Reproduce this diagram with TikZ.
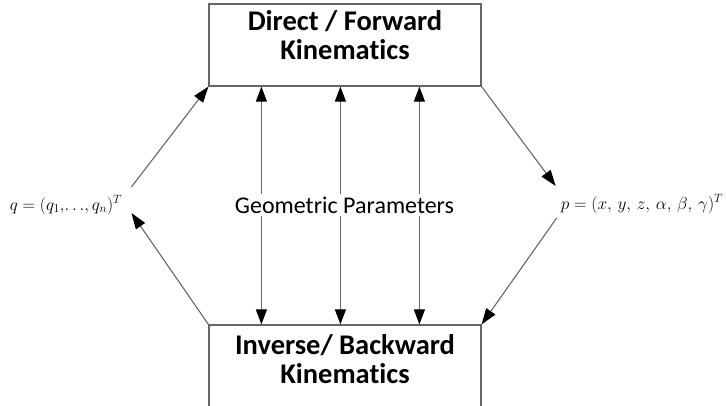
\documentclass[tikz,border=0pt]{standalone}
\usepackage{fontspec}
\setmainfont{Carlito}[Ligatures=NoCommon]
\usetikzlibrary{arrows.meta, positioning, calc}
\definecolor{edgegray}{HTML}{666666}

\begin{document}
\begin{tikzpicture}[
  x=1pt, y=-1pt,
  kinbox/.style={rectangle, draw=edgegray, line width=1.2pt, align=center, font=\fontsize{28.5}{29}\selectfont\bfseries, minimum width=272pt, minimum height=82pt, inner sep=0pt, text depth=20pt},
  maplabel/.style={font=\fontsize{17}{20}\selectfont, inner sep=1pt},
  paramlabel/.style={fill=white, font=\fontsize{24}{26}\selectfont, inner xsep=1pt, inner ysep=3pt},
  arrow/.style={-{Triangle[length=16pt,width=11pt,color=black]}, line width=1.1pt, draw=edgegray},
  biarrow/.style={{Triangle[length=15pt,width=11pt,color=black]}-{Triangle[length=15pt,width=11pt,color=black]}, line width=1.1pt, draw=edgegray}
]
  \clip (0,0) rectangle (726,406);

  \node[kinbox] (fk) at (345,45) {Direct / Forward\\Kinematics};
  \node[kinbox, text depth=14pt] (ik) at (345,366) {Inverse/ Backward\\Kinematics};

  \node[maplabel] (q) at (66,205) {$q=(q_1,\!\ldots\!,q_n)^T$};
  \node[maplabel] (p) at (642,204) {$p=(x,\,y,\,z,\,\alpha,\,\beta,\,\gamma)^T$};

  % links to the configuration vectors
  \draw[arrow] ([xshift=8pt,yshift=18pt]q.east) -- (fk.south west);
  \draw[arrow] (ik.north west) -- ([xshift=8pt,yshift=-8pt]q.east);
  \draw[arrow] (fk.south east) -- ([xshift=-4pt,yshift=18pt]p.west);
  \draw[arrow] ([xshift=-3pt,yshift=-14pt]p.west) -- (ik.north east);

  % geometric parameters
  \foreach \dx in {53,132,211}
    \draw[biarrow] ([xshift=\dx pt]fk.south west) -- ([xshift=\dx pt]ik.north west);

  \node[paramlabel] (geo) at (344.5,205) {Geometric Parameters};
\end{tikzpicture}
\end{document}
